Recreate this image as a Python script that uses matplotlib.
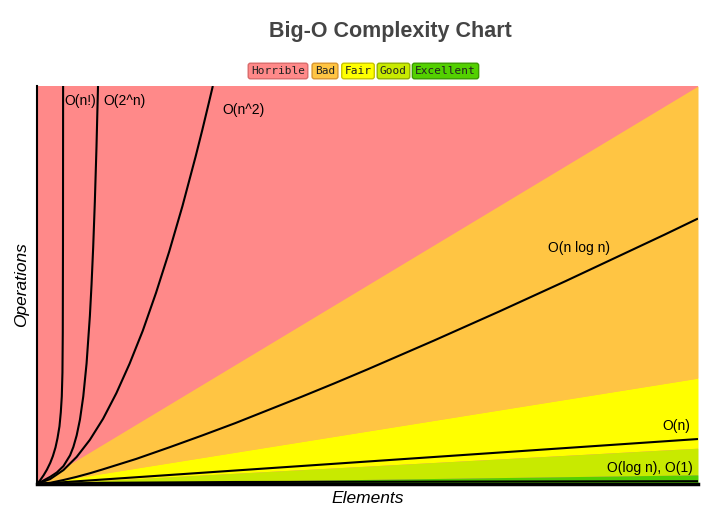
import matplotlib
matplotlib.use("Agg")
import matplotlib.pyplot as plt

# ---------------- data (axes units 0-100) ----------------
region_names = ["Horrible", "Bad", "Fair", "Good", "Excellent"]
region_colors = ["#ff8989", "#ffc543", "#ffff00", "#c8ea00", "#53d000"]
region_edges = ["#d96a6a", "#d9962e", "#c9c400", "#93b000", "#3c9a00"]
# upper boundary of each region at the right edge (x = 100); regions fan out from origin
region_x = [0, 100]
region_top_right = {"Bad": 100.0, "Fair": 26.6, "Good": 9.0, "Excellent": 2.3}

fact_x = [0, 0.5, 1.0, 1.5, 2.0, 2.4, 2.8, 3.1, 3.4, 3.6, 3.75, 3.85, 3.9, 3.93, 3.95]
fact_y = [0, 1.0, 2.2, 3.6, 5.3, 7.0, 9.2, 11.5, 14.5, 18.0, 22.0, 28.0, 38.0, 60.0, 100.0]

exp_x = [0, 1, 2, 3, 4, 5, 5.5, 6, 6.5, 7, 7.5, 8, 8.25, 8.5, 8.75, 9.0, 9.23]
exp_y = [0, 0.9, 1.8, 2.9, 4.5, 7.2, 9.3, 12.2, 16.2, 22.0, 30.3, 42.2, 50.1, 59.5,
         70.9, 84.7, 100.0]

sq_x = [0, 2, 4, 6, 8, 10, 12, 14, 16, 18, 20, 22, 24, 25, 26, 26.6]
sq_y = [0, 1.25, 3.5, 6.8, 11.1, 16.4, 22.8, 30.2, 38.5, 48.0, 58.4, 69.8, 82.3, 88.9,
        95.8, 100.0]

nlogn_x = [0, 2, 4, 6, 8, 10, 15, 20, 25, 30, 35, 40, 45, 50, 55, 60, 65, 70, 75, 80,
           85, 90, 95, 100]
nlogn_y = [0, 0.3, 1.0, 1.8, 2.7, 3.7, 6.3, 9.2, 12.2, 15.3, 18.6, 21.9, 25.3, 28.8,
           32.4, 36.0, 39.7, 43.4, 47.2, 51.0, 54.9, 58.8, 62.7, 66.7]

lin_x = [0, 100]
lin_y = [0, 11.3]

log_x = [0, 10, 30, 60, 100]
log_y = [0, 0.3, 0.5, 0.6, 0.7]

curve_labels = ["O(n!)", "O(2^n)", "O(n^2)", "O(n log n)", "O(n)", "O(log n), O(1)"]

# ---------------- figure ----------------
fig = plt.figure(figsize=(7.2, 5.17), dpi=100)
ax = fig.add_axes([37 / 720, 1 - 484 / 517, (698 - 37) / 720, (484 - 86) / 517])
ax.set_xlim(0, 100)
ax.set_ylim(0, 100)
ax.set_facecolor(region_colors[0])

ax.fill_between(region_x, [0, region_top_right["Fair"]], [0, region_top_right["Bad"]],
                color=region_colors[1], lw=0)
ax.fill_between(region_x, [0, region_top_right["Good"]], [0, region_top_right["Fair"]],
                color=region_colors[2], lw=0)
ax.fill_between(region_x, [0, region_top_right["Excellent"]], [0, region_top_right["Good"]],
                color=region_colors[3], lw=0)
ax.fill_between(region_x, [0, 0], [0, region_top_right["Excellent"]],
                color=region_colors[4], lw=0)

lw = 1.5
for xs, ys in [(fact_x, fact_y), (exp_x, exp_y), (sq_x, sq_y),
               (nlogn_x, nlogn_y), (lin_x, lin_y), (log_x, log_y)]:
    ax.plot(xs, ys, color="black", lw=lw, solid_joinstyle="round", solid_capstyle="butt")

lab_font = dict(family="Liberation Sans", fontsize=10, color="black")
ax.text(4.08, 96.3, curve_labels[0], ha="left", va="center", **lab_font)
ax.text(9.98, 96.3, curve_labels[1], ha="left", va="center", **lab_font)
ax.text(28.0, 94.0, curve_labels[2], ha="left", va="center", **lab_font)
ax.text(77.3, 59.3, curve_labels[3], ha="left", va="center", **lab_font)
ax.text(98.8, 14.6, curve_labels[4], ha="right", va="center", **lab_font)
ax.text(99.2, 4.1, curve_labels[5], ha="right", va="center", **lab_font)

for s in ["top", "right"]:
    ax.spines[s].set_visible(False)
ax.spines["left"].set_linewidth(1.5)
ax.spines["bottom"].set_linewidth(2.5)
ax.set_xticks([])
ax.set_yticks([])

ax.set_xlabel("Elements", family="Liberation Sans", style="italic", fontsize=12.5, labelpad=5)
ax.set_ylabel("Operations", family="Liberation Sans", style="italic", fontsize=12.5, labelpad=6)

fig.text(390 / 720, 1 - 31 / 517, "Big-O Complexity Chart", ha="center", va="center",
         family="Liberation Sans", fontweight="bold", fontsize=15.5, color="#444444")

legend_cx = [278, 325, 358, 393.5, 445.5]
for name, fc, ec, cx in zip(region_names, region_colors, region_edges, legend_cx):
    fig.text(cx / 720, 1 - 71 / 517, name, ha="center", va="center",
             family="DejaVu Sans Mono", fontsize=8, color="#222222",
             bbox=dict(boxstyle="round,pad=0.25,rounding_size=0.2", fc=fc, ec=ec, lw=1))

fig.savefig("out.png", dpi=100)
